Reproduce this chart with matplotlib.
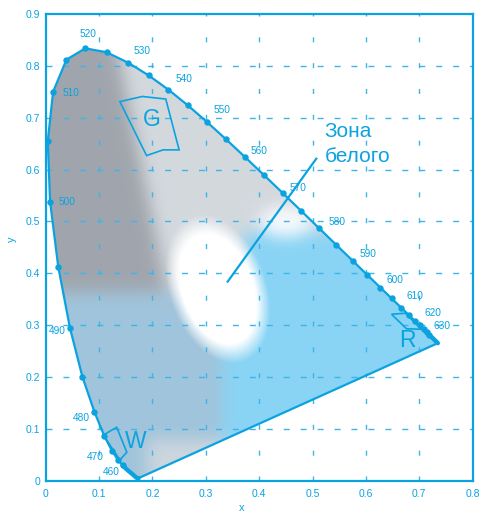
import numpy as np
import matplotlib
matplotlib.use("Agg")
import matplotlib.pyplot as plt
from matplotlib.patches import Polygon

plt.rcParams['font.family'] = ['Liberation Sans', 'DejaVu Sans']

# ---- data: CIE 1931 spectral locus (wavelength nm, x, y) ----
wavelengths = [380, 385, 390, 395, 400, 405, 410, 415, 420, 425, 430, 435, 440, 445, 450,
               455, 460, 465, 470, 475, 480, 485, 490, 495, 500, 505, 510, 515, 520, 525,
               530, 535, 540, 545, 550, 555, 560, 565, 570, 575, 580, 585, 590, 595, 600,
               605, 610, 615, 620, 625, 630, 635, 640, 645, 650, 655, 660, 665, 670, 675,
               680, 685, 690, 695, 700]
locus_x = [0.1741, 0.1740, 0.1738, 0.1736, 0.1733, 0.1730, 0.1726, 0.1721, 0.1714, 0.1703,
           0.1689, 0.1669, 0.1644, 0.1611, 0.1566, 0.1510, 0.1440, 0.1355, 0.1241, 0.1096,
           0.0913, 0.0687, 0.0454, 0.0235, 0.0082, 0.0039, 0.0139, 0.0389, 0.0743, 0.1142,
           0.1547, 0.1929, 0.2296, 0.2658, 0.3016, 0.3373, 0.3731, 0.4087, 0.4441, 0.4788,
           0.5125, 0.5448, 0.5752, 0.6029, 0.6270, 0.6482, 0.6658, 0.6801, 0.6915, 0.7006,
           0.7079, 0.7140, 0.7190, 0.7230, 0.7260, 0.7283, 0.7300, 0.7311, 0.7320, 0.7327,
           0.7334, 0.7340, 0.7344, 0.7346, 0.7347]
locus_y = [0.0050, 0.0050, 0.0049, 0.0049, 0.0048, 0.0048, 0.0048, 0.0048, 0.0051, 0.0058,
           0.0069, 0.0086, 0.0109, 0.0138, 0.0177, 0.0227, 0.0297, 0.0399, 0.0578, 0.0868,
           0.1327, 0.2007, 0.2950, 0.4127, 0.5384, 0.6548, 0.7502, 0.8120, 0.8338, 0.8262,
           0.8059, 0.7816, 0.7543, 0.7243, 0.6923, 0.6589, 0.6245, 0.5896, 0.5547, 0.5202,
           0.4866, 0.4544, 0.4242, 0.3965, 0.3725, 0.3514, 0.3340, 0.3197, 0.3083, 0.2993,
           0.2920, 0.2859, 0.2809, 0.2770, 0.2740, 0.2717, 0.2700, 0.2689, 0.2680, 0.2673,
           0.2666, 0.2660, 0.2656, 0.2654, 0.2653]

labelled_wl = [460, 470, 480, 490, 500, 510, 520, 530, 540, 550, 560, 570, 580, 590, 600, 610, 620, 630]

# gamut quadrilaterals (x, y)
G_x = [0.139, 0.181, 0.225, 0.250, 0.220, 0.189]
G_y = [0.731, 0.741, 0.736, 0.638, 0.638, 0.627]
W_x = [0.108, 0.133, 0.152, 0.139]
W_y = [0.088, 0.103, 0.055, 0.040]
R_x = [0.648, 0.674, 0.704, 0.676]
R_y = [0.321, 0.323, 0.292, 0.293]

white_line_x = [0.341, 0.507]
white_line_y = [0.384, 0.621]

x_ticks = [0, 0.1, 0.2, 0.3, 0.4, 0.5, 0.6, 0.7, 0.8]
x_ticklabels = ['0', '0.1', '0.2', '0.3', '0.4', '0.5', '0.6', '0.7', '0.8']
y_ticks = [0, 0.1, 0.2, 0.3, 0.4, 0.5, 0.6, 0.7, 0.8, 0.9]
y_ticklabels = ['0', '0.1', '0.2', '0.3', '0.4', '0.5', '0.6', '0.7', '0.8', '0.9']

# ---- layout ----
BLUE = '#0aa3e0'
GRIDC = '#3db5ea'
label_pos = {460: (0.122, 0.017), 470: (0.092, 0.045), 480: (0.067, 0.121), 490: (0.021, 0.289),
             500: (0.040, 0.538), 510: (0.047, 0.747), 520: (0.079, 0.861), 530: (0.180, 0.829),
             540: (0.259, 0.775), 550: (0.330, 0.714), 560: (0.400, 0.636), 570: (0.473, 0.564),
             580: (0.545, 0.498), 590: (0.604, 0.437), 600: (0.655, 0.388), 610: (0.692, 0.356),
             620: (0.725, 0.324), 630: (0.743, 0.298)}

fig = plt.figure(figsize=(4.85, 5.15), dpi=100)
ax = fig.add_axes([0.0942, 0.0666, 0.8804, 0.9062])
ax.set_xlim(0, 0.8)
ax.set_ylim(0, 0.9)

# ---- background colour field (decorative fill) ----
nx, ny = 320, 360
gx = np.linspace(0, 0.8, nx)
gy = np.linspace(0, 0.9, ny)
X, Y = np.meshgrid(gx, gy)
img = np.zeros((ny, nx, 3))
img[:] = (0.54, 0.83, 0.96)                       # light blue
bg = (Y < 0.365) & (X < 0.33)
img[bg] = (0.63, 0.77, 0.86)                      # blue-grey
xb = 0.15 + (0.75 - Y) * 0.2
dg = (Y >= 0.365) & (X < xb)
img[dg] = (0.63, 0.65, 0.68)                      # dark grey
lg = ((Y >= 0.48) & (X >= xb)) | ((Y >= 0.365) & (X >= xb) & (X < 0.37))
img[lg] = (0.83, 0.85, 0.87)                      # light grey
bot = (Y < 0.08) & (X > 0.19) & (X < 0.34)
img[bot] = (0.80, 0.84, 0.87)
wh2 = ((X - 0.45) / 0.05) ** 2 + ((Y - 0.50) / 0.03) ** 2 < 1
img[wh2] = (0.97, 0.98, 0.99)

def blur(a, s):
    r = int(3 * s)
    k = np.exp(-0.5 * (np.arange(-r, r + 1) / s) ** 2)
    k /= k.sum()
    p = np.pad(a, ((r, r), (r, r), (0, 0)), mode='edge')
    out = np.apply_along_axis(lambda v: np.convolve(v, k, mode='valid'), 1, p)
    out = np.apply_along_axis(lambda v: np.convolve(v, k, mode='valid'), 0, out)
    return out

img = blur(img, 6.0)
# soft white blob (tilted ellipse)
cx = 0.322 - 0.2 * (Y - 0.37)
d = np.sqrt(((X - cx) / 0.082) ** 2 + ((Y - 0.37) / 0.125) ** 2)
alpha = np.clip((1.15 - d) / 0.3, 0, 1)[..., None]
img = img * (1 - alpha) + alpha * 1.0
img = np.clip(img, 0, 1)
im = ax.imshow(img, extent=[0, 0.8, 0, 0.9], origin='lower', aspect='auto',
               interpolation='bilinear', zorder=1)
poly = Polygon(np.column_stack([locus_x, locus_y]), closed=True, facecolor='none',
               edgecolor='none', transform=ax.transData)
ax.add_patch(poly)
im.set_clip_path(poly)

# ---- grid ----
for xv in x_ticks[1:-1]:
    ax.axvline(xv, color=GRIDC, lw=1.0, dashes=(3.6, 15), zorder=2)
for yv in y_ticks[1:-1]:
    ax.axhline(yv, color=GRIDC, lw=1.0, dashes=(4.3, 7.9), zorder=2)

# ---- spectral locus ----
lx = locus_x + [locus_x[0]]
ly = locus_y + [locus_y[0]]
ax.plot(lx, ly, color=BLUE, lw=1.6, zorder=4, solid_joinstyle='round')
ax.plot(locus_x[16:53], locus_y[16:53], 'o', color=BLUE, ms=3.6, zorder=5)
ax.plot(locus_x[:17], locus_y[:17], color=BLUE, lw=3.2, zorder=4, solid_capstyle='round')
ax.plot(locus_x[50:], locus_y[50:], color=BLUE, lw=3.2, zorder=4, solid_capstyle='round')

for wl in labelled_wl:
    px, py = label_pos[wl]
    ax.text(px, py, str(wl), color=BLUE, fontsize=7.3, ha='center', va='center', zorder=6)

# ---- gamut polygons ----
for qx, qy in ((G_x, G_y), (W_x, W_y), (R_x, R_y)):
    ax.add_patch(Polygon(np.column_stack([qx, qy]), closed=True, fill=False,
                         edgecolor=BLUE, lw=1.2, zorder=5))
ax.text(0.198, 0.696, 'G', color=BLUE, fontsize=16.5, ha='center', va='center', zorder=6)
ax.text(0.168, 0.075, 'W', color=BLUE, fontsize=16.5, ha='center', va='center', zorder=6)
ax.text(0.677, 0.271, 'R', color=BLUE, fontsize=16.5, ha='center', va='center', zorder=6)

# ---- white zone annotation ----
ax.plot(white_line_x, white_line_y, color=BLUE, lw=1.6, zorder=5)
ax.text(0.523, 0.673, 'Зона', color=BLUE, fontsize=15, ha='left', va='center', zorder=6)
ax.text(0.523, 0.625, 'белого', color=BLUE, fontsize=15, ha='left', va='center', zorder=6)

# ---- axes styling ----
for sp in ax.spines.values():
    sp.set_color(BLUE)
    sp.set_linewidth(1.6)
    sp.set_zorder(7)
ax.set_xticks(x_ticks)
ax.set_xticklabels(x_ticklabels)
ax.set_yticks(y_ticks)
ax.set_yticklabels(y_ticklabels)
ax.tick_params(length=0, colors=BLUE, labelsize=7.5)
ax.tick_params(axis='x', pad=6)
ax.tick_params(axis='y', pad=4)
ax.text(0.46, -0.058, 'x', color=BLUE, fontsize=8, ha='center', va='center', transform=ax.transAxes)
ax.text(-0.08, 0.517, 'y', color=BLUE, fontsize=8, ha='center', va='center', rotation=90,
        transform=ax.transAxes)

fig.savefig('out.png', dpi=100)
